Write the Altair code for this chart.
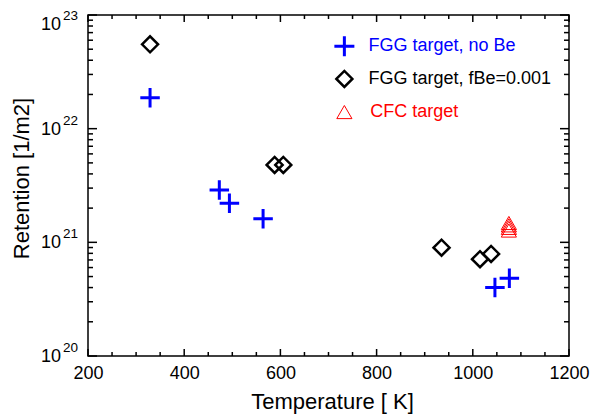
import altair as alt
import pandas as pd

# ---- data ----
plus_T = [329, 473, 494, 564, 1046, 1076]
plus_R = [1.87e22, 2.89e21, 2.21e21, 1.61e21, 4.00e20, 4.83e20]

diam_T = [329, 588, 606, 935, 1015, 1038]
diam_R = [5.52e22, 4.80e21, 4.80e21, 8.98e20, 7.10e20, 7.90e20]

cfc_T = [1075, 1075, 1075, 1075]
cfc_R = [1.48e21, 1.41e21, 1.34e21, 1.27e21]

legend_labels = ["FGG target, no Be", "FGG target, fBe=0.001", "CFC target"]
legend_colors = ["#0000ff", "#000000", "#ff0000"]
legend_sym_T = [733, 733, 733]
legend_text_T = [783, 783, 787]
legend_R = [5.3e22, 2.74e22, 1.40e22]

x_major = [200, 400, 600, 800, 1000, 1200]
x_minor = [v for v in range(250, 1200, 50) if v % 200 != 0]
y_major = [1e20, 1e21, 1e22, 1e23]
y_minor = [k * 10.0 ** e for e in (20, 21, 22) for k in range(2, 10)]
y_base = ["10", "10", "10", "10"]
y_exp = ["20", "21", "22", "23"]

FONT = "Liberation Sans, Arial, Helvetica, sans-serif"
W, H = 481, 341

xscale = alt.Scale(domain=[200, 1200], nice=False, zero=False)
yscale = alt.Scale(type="log", domain=[1e20, 1e23], nice=False)

df_plus = pd.DataFrame({"T": plus_T, "R": plus_R})
df_diam = pd.DataFrame({"T": diam_T, "R": diam_R})
df_cfc = pd.DataFrame({"T": cfc_T, "R": cfc_R})
df_leg = pd.DataFrame({"T": legend_sym_T, "Tt": legend_text_T, "R": legend_R,
                       "label": legend_labels})
df_ylab = pd.DataFrame({"v": y_major, "base": y_base, "exp": y_exp})

PLUS = "M-1,0L1,0M0,-1L0,1"

x_lab_axis = alt.Axis(orient="bottom", values=x_major, ticks=False, domain=False,
                      grid=False, labelFontSize=18, labelFont=FONT, labelColor="black",
                      labelPadding=8, labelFlush=False, labelOverlap=False, format="d",
                      title="Temperature [ K]", titleFontSize=22, titleFont=FONT,
                      titleFontWeight="normal", titleColor="black",
                      titleX=244, titleY=52, titleBaseline="alphabetic",
                      titleAlign="center")
y_title_axis = alt.Axis(orient="left", values=y_major, ticks=False, domain=False,
                        grid=False, labels=False,
                        title="Retention [1/m2]", titleFontSize=22, titleFont=FONT,
                        titleFontWeight="normal", titleColor="black",
                        titleX=-77, titleY=163, titleBaseline="top", titleAlign="center",
                        titleAngle=270)


def pts(axes=False):
    return dict(
        x=alt.X("T:Q", scale=xscale, axis=x_lab_axis if axes else None),
        y=alt.Y("R:Q", scale=yscale, axis=y_title_axis if axes else None),
    )


plus_layer = alt.Chart(df_plus).mark_point(
    shape=PLUS, filled=False, stroke="#0000ff", strokeWidth=3, size=380, opacity=1
).encode(**pts(axes=True))

diam_layer = alt.Chart(df_diam).mark_point(
    shape="diamond", filled=False, stroke="black", strokeWidth=2.5, size=256,
    opacity=1, strokeJoin="miter"
).encode(**pts())

cfc_layer = alt.Chart(df_cfc).mark_point(
    shape="triangle-up", filled=False, stroke="#ff0000", strokeWidth=1, size=230,
    opacity=1
).encode(**pts())

leg_plus = alt.Chart(df_leg.iloc[[0]]).mark_point(
    shape=PLUS, filled=False, stroke="#0000ff", strokeWidth=3, size=400, opacity=1
).encode(**pts())

leg_diam = alt.Chart(df_leg.iloc[[1]]).mark_point(
    shape="diamond", filled=False, stroke="black", strokeWidth=2.5, size=256,
    opacity=1, strokeJoin="miter"
).encode(**pts())

leg_tri = alt.Chart(df_leg.iloc[[2]]).mark_point(
    shape="triangle-up", filled=False, stroke="#ff0000", strokeWidth=1, size=230,
    opacity=1
).encode(**pts())

leg_text = alt.Chart(df_leg).mark_text(
    align="left", baseline="middle", fontSize=18, font=FONT
).encode(
    x=alt.X("Tt:Q", scale=xscale, axis=None),
    y=alt.Y("R:Q", scale=yscale, axis=None),
    text="label:N",
    color=alt.Color("label:N", scale=alt.Scale(domain=legend_labels, range=legend_colors),
                    legend=None),
)


# y tick labels as "10" with a raised exponent
def ylabels(rows, dy_base, dy_exp):
    src = alt.Chart(df_ylab.iloc[rows])
    base = src.mark_text(align="right", baseline="middle", fontSize=18, font=FONT,
                         color="black", dy=dy_base).encode(
        y=alt.Y("v:Q", scale=yscale, axis=None), x=alt.value(-27), text="base:N")
    exp = src.mark_text(align="left", baseline="middle", fontSize=13.5, font=FONT,
                        color="black", dy=dy_exp).encode(
        y=alt.Y("v:Q", scale=yscale, axis=None), x=alt.value(-25), text="exp:N")
    return [base, exp]


ylabel_layers = ylabels([0, 1, 2], 1, -8) + ylabels([3], 10, 1)


# inward tick marks on all four sides
def xticks(values, length):
    df = pd.DataFrame({"v": values})
    base = alt.Chart(df).mark_rule(color="black", strokeWidth=1.5)
    bottom = base.encode(x=alt.X("v:Q", scale=xscale, axis=None),
                         y=alt.value(H), y2=alt.value(H - length))
    top = base.encode(x=alt.X("v:Q", scale=xscale, axis=None),
                      y=alt.value(0), y2=alt.value(length))
    return [bottom, top]


def yticks(values, length):
    df = pd.DataFrame({"v": values})
    base = alt.Chart(df).mark_rule(color="black", strokeWidth=1.5)
    left = base.encode(y=alt.Y("v:Q", scale=yscale, axis=None),
                       x=alt.value(0), x2=alt.value(length))
    right = base.encode(y=alt.Y("v:Q", scale=yscale, axis=None),
                        x=alt.value(W), x2=alt.value(W - length))
    return [left, right]


tick_layers = (xticks(x_major, 7) + xticks(x_minor, 4)
               + yticks(y_major, 9) + yticks(y_minor, 5))

chart = alt.layer(
    plus_layer, diam_layer, cfc_layer, leg_plus, leg_diam, leg_tri, leg_text,
    *ylabel_layers, *tick_layers
).resolve_axis(x="independent", y="independent").properties(
    width=W, height=H,
    autosize=alt.AutoSizeParams(type="none"),
    padding={"left": 80, "top": 7, "right": 25, "bottom": 59},
    background="white",
).configure_view(stroke="black", strokeWidth=1.5)

chart.save("out.html", embed_options={"renderer": "svg", "actions": False})
